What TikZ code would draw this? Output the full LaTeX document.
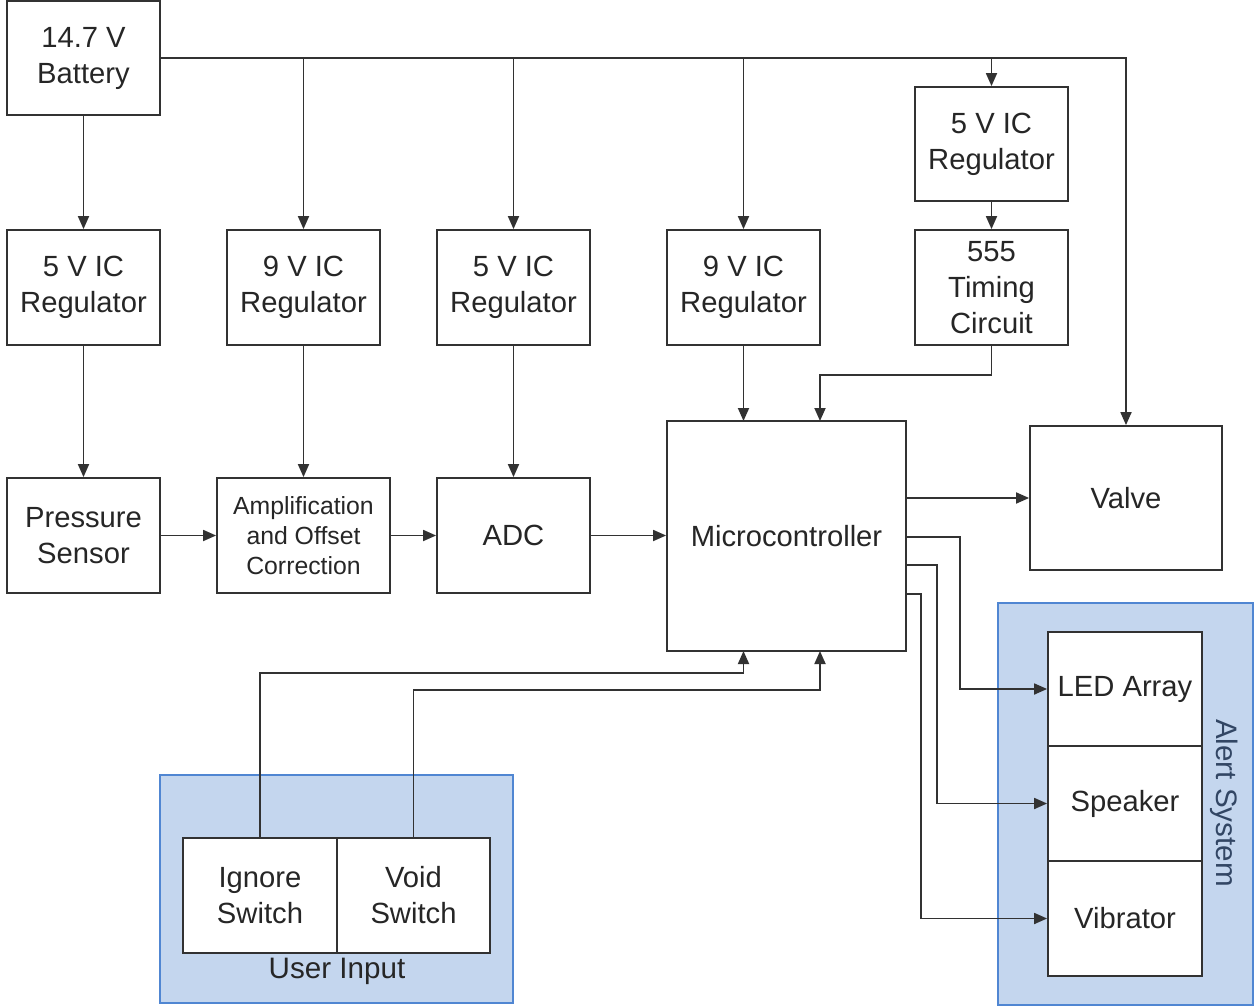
\documentclass[tikz,border=0pt]{standalone}
\usepackage{fontspec}
\setmainfont{Liberation Sans}
\usetikzlibrary{arrows.meta}
\definecolor{linec}{RGB}{50,50,50}
\definecolor{groupfill}{RGB}{196,214,238}
\definecolor{groupedge}{RGB}{80,134,210}
\definecolor{grouptext}{RGB}{50,70,100}
\tikzset{
  blk/.style={draw=linec, line width=0.9pt, fill=white, rectangle, inner sep=0pt,
    align=center, font=\fontsize{14.6}{18}\selectfont, text=black!85},
  smallblk/.style={blk, font=\fontsize{12.4}{15}\selectfont},
  wire/.style={draw=linec, line width=0.9pt},
  arr/.style={wire, -{Triangle[length=6.5pt,width=5.5pt]}},
  grp/.style={draw=groupedge, line width=1.2pt, fill=groupfill},
}
\newcommand{\blkat}[6]{% name, cx, cy, w, h, text
  \node[blk, minimum width=#4*0.5pt, minimum height=#5*0.5pt] (#1) at (#2,#3) {#6};}
\begin{document}
\begin{tikzpicture}[x=0.5pt,y=-0.5pt]
\useasboundingbox (0,0) rectangle (1255,1007);

% group backgrounds
\draw[grp] (998,603) rectangle (1253,1005);
\draw[grp] (160,775) rectangle (513,1003);

% power source and regulators
\blkat{bat}{83.5}{58}{153}{114}{14.7 V\\Battery}
\blkat{r1}{83.5}{287.5}{153}{115}{5 V IC\\Regulator}
\blkat{r2}{303.5}{287.5}{153}{115}{9 V IC\\Regulator}
\blkat{r3}{513.5}{287.5}{153}{115}{5 V IC\\Regulator}
\blkat{r4}{743.5}{287.5}{153}{115}{9 V IC\\Regulator}
\blkat{rt}{991.5}{144}{153}{114}{5 V IC\\Regulator}
\blkat{tim}{991.5}{287.5}{153}{115}{555\\Timing\\Circuit}

% signal chain
\blkat{ps}{83.5}{535.5}{153}{115}{Pressure\\Sensor}
\node[smallblk, minimum width=86.5pt, minimum height=57.5pt] (amp) at (303.5,535.5)
  {Amplification\\and Offset\\Correction};
\blkat{adc}{513.5}{535.5}{153}{115}{ADC}
\blkat{mcu}{786.5}{536}{239}{230}{Microcontroller}
\blkat{valve}{1126}{498}{192}{144}{Valve}

% alert system
\blkat{led}{1125}{689}{154}{114}{LED Array}
\blkat{spk}{1125}{803.5}{154}{115}{Speaker}
\blkat{vib}{1125}{918.5}{154}{115}{Vibrator}
\node[rotate=-90, font=\fontsize{14.8}{18}\selectfont, text=grouptext] (alertlbl) at (1224,803) {Alert System};

% user input
\blkat{ign}{260}{895.5}{154}{115}{Ignore\\Switch}
\blkat{void}{413.5}{895.5}{153}{115}{Void\\Switch}
\node[font=\fontsize{14.8}{18}\selectfont, text=black!85] (uilbl) at (337,971) {User Input};

% connection points on the microcontroller
\coordinate (mcuTa) at (743.5,421);
\coordinate (mcuTb) at (820,421);
\coordinate (mcuBa) at (743.5,651);
\coordinate (mcuBb) at (820,651);
\coordinate (mcuR1) at (906,537);
\coordinate (mcuR2) at (906,565);
\coordinate (mcuR3) at (906,594);

% battery bus
\draw[arr] (bat.south) -- (r1.north);
\draw[arr] (bat.east) -| (valve.north);
\draw[arr] (bat.east -| r2.north) -- (r2.north);
\draw[arr] (bat.east -| r3.north) -- (r3.north);
\draw[arr] (bat.east -| r4.north) -- (r4.north);
\draw[arr] (bat.east -| rt.north) -- (rt.north);
\draw[arr] (rt.south) -- (tim.north);

% regulators to loads
\draw[arr] (r1.south) -- (ps.north);
\draw[arr] (r2.south) -- (amp.north);
\draw[arr] (r3.south) -- (adc.north);
\draw[arr] (r4.south) -- (mcuTa);
\draw[arr] (tim.south) -- ++(0,29) -| (mcuTb);

% signal chain
\draw[arr] (ps.east) -- (amp.west);
\draw[arr] (amp.east) -- (adc.west);
\draw[arr] (adc.east) -- (adc.east -| mcu.west);
\draw[arr] (mcu.east |- valve.west) -- (valve.west);

% outputs to alert system
\draw[arr] (mcuR1) -- (960,537) |- (led.west);
\draw[arr] (mcuR2) -- (937,565) |- (spk.west);
\draw[arr] (mcuR3) -- (921,594) |- (vib.west);

% user switches to microcontroller
\draw[arr] (ign.north) -- (260,673) -| (mcuBa);
\draw[arr] (void.north) -- (413.5,690) -| (mcuBb);
\end{tikzpicture}
\end{document}
